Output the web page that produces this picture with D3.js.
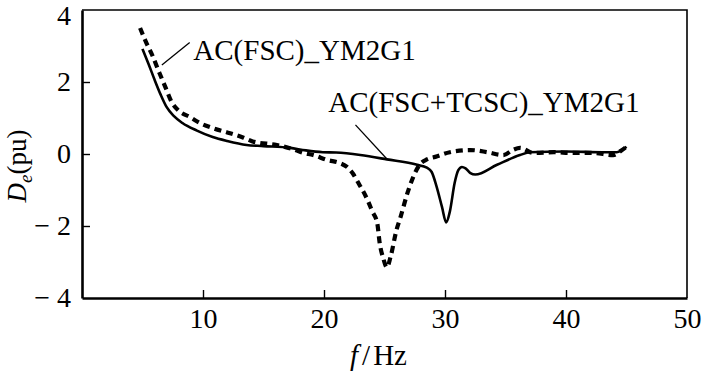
<!DOCTYPE html>
<html>
<head>
<meta charset="utf-8">
<script src="https://cdn.jsdelivr.net/npm/d3@7"></script>
<style>
  body { margin: 0; background: #fff; }
  svg { display: block; }
</style>
</head>
<body>
<svg id="chart"></svg>
<script>
// AC(FSC+TCSC)_YM2G1 -- solid line
const tcscFreq = [5.0, 5.5, 6.0, 6.5, 7.0, 7.6, 8.3, 9.5, 10.8, 12.0, 13.6, 15.0, 17.2, 18.5, 19.9, 21.0, 23.0, 25.2, 27.7, 28.5, 28.9, 29.3, 29.75, 30.1, 30.4, 30.8, 31.1, 31.4, 31.7, 32.1, 32.5, 34.3, 36.2, 37.0, 40.0, 43.0, 44.2, 45.0];
const tcscDe = [2.92, 2.5, 2.06, 1.65, 1.3, 1.05, 0.86, 0.65, 0.47, 0.36, 0.25, 0.22, 0.17, 0.1, 0.05, 0.04, -0.03, -0.15, -0.3, -0.38, -0.5, -0.9, -1.47, -1.9, -1.6, -0.8, -0.45, -0.36, -0.4, -0.53, -0.57, -0.3, -0.03, 0.05, 0.07, 0.05, 0.05, 0.2];

// AC(FSC)_YM2G1 -- dashed line
const fscFreq = [4.8, 5.3, 5.8, 6.4, 6.9, 7.4, 8.0, 8.9, 9.8, 10.8, 12.0, 13.3, 14.1, 16.1, 17.3, 18.3, 19.1, 20.3, 21.3, 21.9, 22.4, 22.8, 23.6, 24.0, 24.4, 24.6, 24.9, 25.2, 25.5, 26.0, 26.3, 26.9, 27.3, 27.9, 28.5, 29.2, 30.4, 32.1, 33.5, 34.8, 35.6, 36.2, 37.3, 39.0, 40.5, 42.2, 43.9, 44.5, 45.0];
const fscDe = [3.5, 3.1, 2.75, 2.25, 1.85, 1.45, 1.2, 1.03, 0.85, 0.72, 0.6, 0.46, 0.35, 0.25, 0.15, 0.03, -0.03, -0.17, -0.25, -0.36, -0.55, -0.78, -1.28, -1.6, -1.92, -2.47, -2.9, -3.15, -2.86, -2.1, -1.78, -1.08, -0.7, -0.3, -0.15, -0.08, 0.05, 0.11, 0.05, -0.03, 0.11, 0.17, 0.03, 0.05, 0.03, 0.03, -0.03, 0.08, 0.2];

const xTicks = [10, 20, 30, 40, 50];
const yTicks = [-4, -2, 0, 2, 4];

// annotation text anchor and leader line, in data units
const labelNames = ['AC(FSC)_YM2G1', 'AC(FSC+TCSC)_YM2G1'];
const labelPos = [[9.2, 2.6], [20.35, 1.17]];
const leaderFrom = [[8.9, 3.1], [22.6, 0.81]];
const leaderTo = [[6.6, 2.47], [25.2, -0.14]];

const width = 704;
const height = 372;
const mLeft = 82;
const mRight = 687;
const mTop = 10;
const mBottom = 298;

// pick the first installed serif face (Times-like)
const pickFont = (names) => {
  const ctx = document.createElement('canvas').getContext('2d');
  const probe = 'AC(FSC+TCSC)_YM2G1 mmwwil';
  const widthOf = (f) => {
    ctx.font = `40px ${f}`;
    return ctx.measureText(probe).width;
  };
  const mono = widthOf('monospace');
  const sans = widthOf('sans-serif');
  const found = names.find((n) => widthOf(`"${n}", monospace`) !== mono && widthOf(`"${n}", sans-serif`) !== sans);
  return found ? `"${found}", serif` : 'serif';
};
const serif = pickFont(['Liberation Serif', 'Times New Roman', 'Tinos', 'Nimbus Roman', 'Noto Serif', 'DejaVu Serif', 'FreeSerif']);

const svg = d3.select('#chart')
    .attr('width', width)
    .attr('height', height)
    .attr('viewBox', [0, 0, width, height]);

const x = d3.scaleLinear().domain([0, 50]).range([mLeft, mRight]);
const y = d3.scaleLinear().domain([-4, 4]).range([mBottom, mTop]);

// frame (top / right are thinner)
svg.append('path')
    .attr('d', `M${mLeft},${mTop}H${mRight}V${mBottom}`)
    .attr('fill', 'none')
    .attr('stroke', '#000')
    .attr('stroke-width', 1.6);

const xAxis = d3.axisBottom(x)
    .tickValues(xTicks)
    .tickSizeInner(-8)
    .tickSizeOuter(0)
    .tickPadding(10)
    .tickFormat(d3.format('d'));
const gx = svg.append('g')
    .attr('transform', `translate(0,${mBottom})`)
    .call(xAxis);

const yAxis = d3.axisLeft(y)
    .tickValues(yTicks)
    .tickSizeInner(-8)
    .tickSizeOuter(0)
    .tickPadding(11)
    .tickFormat((d) => d < 0 ? '\u2212 ' + Math.abs(d) : String(d));
const gy = svg.append('g')
    .attr('transform', `translate(${mLeft},0)`)
    .call(yAxis);

[gx, gy].forEach((g) => {
  g.attr('font-family', serif).attr('font-size', 28);
  g.select('.domain').attr('stroke-width', 2.6);
  g.selectAll('.tick line').attr('stroke-width', 1.4);
  g.selectAll('.tick text').attr('fill', '#000');
});
gx.selectAll('.tick').filter((d) => d === 50).select('line').remove();
gy.selectAll('.tick').filter((d) => d === 4 || d === -4).select('line').remove();
// keep the top label inside the picture
gy.selectAll('.tick').filter((d) => d === 4).select('text').attr('dy', '0.5em');

const line = d3.line()
    .curve(d3.curveMonotoneX)
    .x((d) => x(d[0]))
    .y((d) => y(d[1]));

const fscPts = fscFreq.map((f, i) => [f, fscDe[i]]);
const tcscPts = tcscFreq.map((f, i) => [f, tcscDe[i]]);

svg.append('path')
    .attr('d', line(tcscPts))
    .attr('fill', 'none')
    .attr('stroke', '#000')
    .attr('stroke-width', 2.6)
    .attr('stroke-linejoin', 'round');

svg.append('path')
    .attr('d', line(fscPts))
    .attr('fill', 'none')
    .attr('stroke', '#000')
    .attr('stroke-width', 4.2)
    .attr('stroke-dasharray', '7,5');

// annotations
const ann = svg.append('g');
labelNames.forEach((name, i) => {
  ann.append('line')
      .attr('x1', x(leaderFrom[i][0]))
      .attr('y1', y(leaderFrom[i][1]))
      .attr('x2', x(leaderTo[i][0]))
      .attr('y2', y(leaderTo[i][1]))
      .attr('stroke', '#000')
      .attr('stroke-width', 1.3);
  ann.append('text')
      .attr('x', x(labelPos[i][0]))
      .attr('y', y(labelPos[i][1]))
      .attr('font-family', serif)
      .attr('font-size', 29)
      .text(name);
});

// axis titles
const yTitle = svg.append('text')
    .attr('transform', `translate(26,${(mTop + mBottom) / 2 + 12}) rotate(-90)`)
    .attr('text-anchor', 'middle')
    .attr('font-family', serif)
    .attr('font-size', 27);
yTitle.append('tspan').attr('font-style', 'italic').text('D');
yTitle.append('tspan').attr('font-style', 'italic').attr('font-size', 19).attr('dy', 6).text('e');
yTitle.append('tspan').attr('dy', -6).text('(pu)');

const xTitle = svg.append('text')
    .attr('x', (mLeft + mRight) / 2 - 6)
    .attr('y', 365)
    .attr('text-anchor', 'middle')
    .attr('font-family', serif)
    .attr('font-size', 29);
xTitle.append('tspan').attr('font-style', 'italic').text('f');
xTitle.append('tspan').attr('dx', 4).text('/');
xTitle.append('tspan').attr('dx', 3).text('Hz');
</script>
</body>
</html>
